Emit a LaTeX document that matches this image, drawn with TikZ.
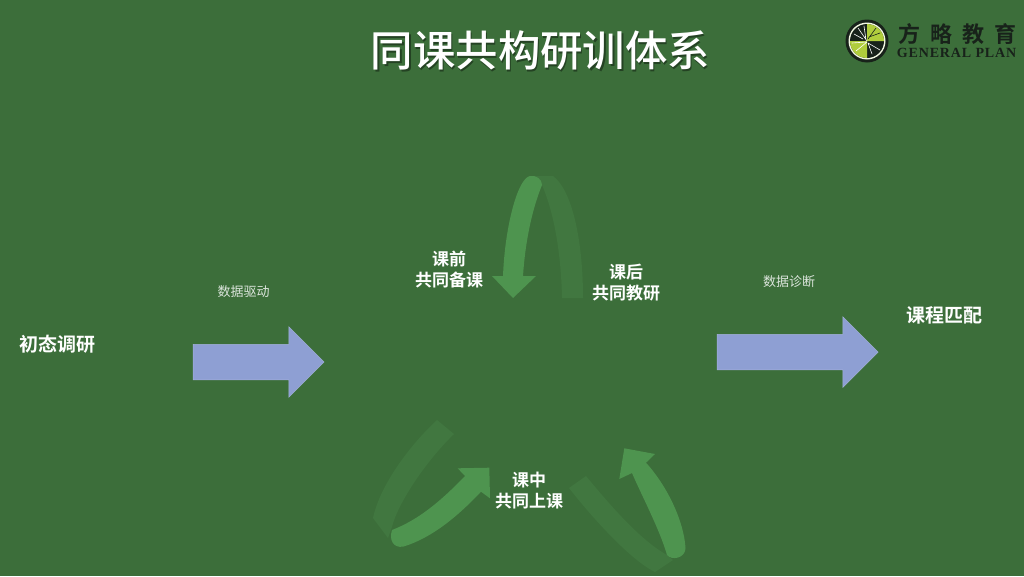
\documentclass[tikz,border=0pt]{standalone}
\usepackage{fontspec}
\newfontfamily\cjk{Noto Sans CJK SC}
\newfontfamily\cjkm{Noto Sans CJK SC Medium}
\newfontfamily\cjkb{Noto Sans CJK SC Bold}
\newfontfamily\logofont[LetterSpace=6]{Liberation Serif Bold}
\usetikzlibrary{positioning, shapes.arrows}
\definecolor{boardgreen}{RGB}{60,110,58}
\definecolor{arrowlight}{RGB}{78,148,79}
\definecolor{arrowdark}{RGB}{65,119,64}
\definecolor{arrowblue}{RGB}{142,159,211}
\definecolor{logolime}{RGB}{176,205,60}
\definecolor{logoink}{RGB}{24,34,26}
\tikzset{
    stage/.style={font=\cjkb\fontsize{17}{21}\selectfont, text=white, align=center, inner sep=0pt},
    sidestage/.style={stage, font=\cjkb\fontsize{19}{23}\selectfont},
    hint/.style={font=\cjk\fontsize{13}{16}\selectfont, text=white!82!boardgreen, inner sep=0pt},
    flow/.style={single arrow, fill=arrowblue, draw=arrowblue!80!white, line width=0.5pt,
        inner xsep=0pt, inner ysep=17.5pt,
        minimum height=#1, minimum width=70pt, single arrow head extend=17.5pt,
        single arrow tip angle=90, single arrow head indent=0pt},
    title/.style={font=\cjkm\fontsize{42.4}{46}\selectfont, inner sep=0pt}
}
\begin{document}
\begin{tikzpicture}[x=1pt, y=-1pt]
    \fill[boardgreen] (0,0) rectangle (1024,576);
    \useasboundingbox (0,0) rectangle (1024,576);

    % title
    \node[title, text=black!40!boardgreen] (titleshade) at (541.7,52.7) {同课共构研训体系};
    \node[title, text=white] (title) at (540.5,51) {同课共构研训体系};

    % logo
    \fill[logoink] (867,41) circle (21.5);
    \fill[white!85!logolime] (867,41) circle (18.5);
    \fill[logoink] (867,41) circle (17);
    \fill[logolime] (867,41) -- (867,24) arc (-90:0:17) -- cycle;
    \fill[logolime] (867,41) -- (867,58) arc (90:180:17) -- cycle;
    \draw[white, line width=0.6pt, line cap=round]
        (867,41) -- (858,28) (863,39) -- (854,34) (866,40) -- (864,26)
        (866,42) -- (852,43) (867,42) -- (856,51) (868,43) -- (880,50) (868,43) -- (872,54);
    \draw[logoink, line width=0.6pt, line cap=round]
        (868,39) -- (876,28) (869,37) -- (880,33);
    \node[inner sep=0pt, text=logoink, font=\cjkb\fontsize{22}{25}\selectfont] (brand) at (957,34.5)
        {方\hspace{10pt}略\hspace{10pt}教\hspace{10pt}育};
    \node[inner sep=0pt, text=logoink, font=\logofont\fontsize{14}{15}\selectfont] (brandsub) at (956.5,53) {GENERAL PLAN};

    % curved arrows, top
    \fill[arrowdark] (535,176) -- (553,176) .. controls (572,190) and (583,240) .. (583,298)
        -- (562,298) .. controls (561,250) and (553,210) .. (542,185) -- cycle;
    \fill[arrowlight] (530,176) .. controls (518,178) and (505,225) .. (503,276)
        -- (492,276) -- (513,298) -- (536,276) -- (523,276)
        .. controls (525,245) and (531,212) .. (542,185)
        .. controls (542,179) and (536,175) .. (530,176) -- cycle;

    % curved arrows, bottom left
    \fill[arrowdark] (437,420) .. controls (410,445) and (380,485) .. (373,518)
        -- (388,538) -- (392,527) .. controls (397,505) and (425,462) .. (454,434) -- cycle;
    \fill[arrowlight] (392,530) .. controls (418,520) and (440,502) .. (465,476)
        -- (457.7,468.3) -- (489.3,467.7) -- (490,498.3) -- (481,491.7)
        .. controls (458,516) and (432,538) .. (403,546.7)
        .. controls (393,548) and (389,540) .. (392,530) -- cycle;

    % curved arrows, bottom right
    \fill[arrowdark] (569,488) -- (586,476) .. controls (610,505) and (640,540) .. (667,555)
        -- (673,560) -- (655,572) .. controls (630,560) and (590,515) .. (569,488) -- cycle;
    \fill[arrowlight] (624.3,448.3) -- (655,454) -- (646,462.7)
        .. controls (668,487) and (684,522) .. (685.5,548)
        .. controls (685.5,558) and (672,561) .. (667,555)
        .. controls (660,530) and (640,492) .. (632,473)
        -- (619.3,479) -- cycle;

    % blue arrows
    \node[flow=131pt] (survey2lesson) at (249.75,362) {};
    \node[flow=161pt] (lesson2match) at (788.75,352) {};
    \node[hint] (drive) at (243.5,292) {数据驱动};
    \node[hint] (diagnose) at (789,282) {数据诊断};

    % stages
    \node[sidestage] (survey) at (57.5,344) {初态调研};
    \node[sidestage] (match) at (944,315) {课程匹配};
    \node[stage] (before) at (449,269.5) {课前\\共同备课};
    \node[stage] (after) at (626,282.5) {课后\\共同教研};
    \node[stage] (during) at (529,490.5) {课中\\共同上课};
\end{tikzpicture}
\end{document}
